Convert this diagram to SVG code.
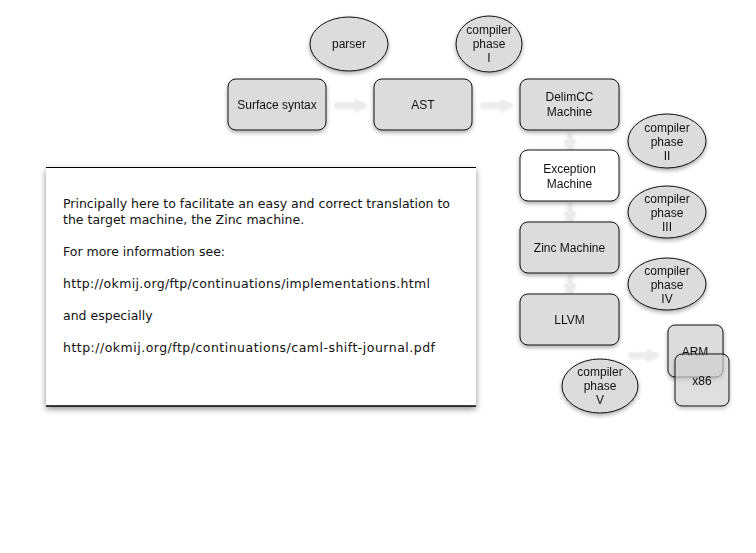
<svg xmlns="http://www.w3.org/2000/svg" width="756" height="553" viewBox="0 0 756 553">
<defs>
<filter id="sh" x="-20%" y="-20%" width="140%" height="140%">
<feDropShadow dx="0" dy="2" stdDeviation="2" flood-color="#000" flood-opacity="0.35"/>
</filter>
<filter id="nsh" x="-10%" y="-10%" width="120%" height="130%">
<feDropShadow dx="0" dy="3" stdDeviation="3" flood-color="#000" flood-opacity="0.45"/>
</filter>
<filter id="ash" x="-30%" y="-100%" width="160%" height="300%">
<feDropShadow dx="0" dy="1" stdDeviation="1.5" flood-color="#000" flood-opacity="0.12"/>
</filter>
<marker id="ah" viewBox="0 0 10 10" refX="8" refY="5" markerWidth="2.6" markerHeight="2.6" orient="auto">
<path d="M0,0 L10,5 L0,10 z" fill="#ececec"/>
</marker>
</defs>
<style>
.n{fill:#dcdcdc;stroke:#111;stroke-width:1}
.w{fill:#fff;stroke:#111;stroke-width:1}
.t{font-family:"Liberation Sans",Arial,sans-serif;font-size:12px;fill:#111;text-anchor:middle}
.c{stroke:#ececec;stroke-width:5;fill:none;marker-end:url(#ah)}
.nt{font-family:"DejaVu Sans",sans-serif;font-size:12.5px;fill:#111}
</style>
<rect width="756" height="553" fill="#fff"/>
<g id="connectors" filter="url(#ash)">
<line class="c" x1="335" y1="105" x2="365" y2="105"/>
<line class="c" x1="481" y1="105" x2="511" y2="105"/>
<line class="c" x1="570" y1="133" x2="570" y2="150"/>
<line class="c" x1="570" y1="203" x2="570" y2="222"/>
<line class="c" x1="570" y1="275" x2="570" y2="294"/>
<line class="c" x1="629" y1="355" x2="657" y2="355"/>
</g>
<g id="surface" filter="url(#sh)"><rect class="n" x="228" y="79" width="98" height="51" rx="8"/><text class="t" x="277" y="109">Surface syntax</text></g>
<g id="ast" filter="url(#sh)"><rect class="n" x="374" y="79" width="98" height="51" rx="8"/><text class="t" x="423" y="109">AST</text></g>
<g id="delimcc" filter="url(#sh)"><rect class="n" x="520" y="79" width="99" height="51" rx="8"/><text class="t" x="569.5" y="101">DelimCC</text><text class="t" x="569.5" y="116">Machine</text></g>
<g id="exception" filter="url(#sh)"><rect class="w" x="520" y="150" width="99" height="51" rx="8"/><text class="t" x="569.5" y="173">Exception</text><text class="t" x="569.5" y="188">Machine</text></g>
<g id="zinc" filter="url(#sh)"><rect class="n" x="520" y="222" width="99" height="51" rx="8"/><text class="t" x="569.5" y="252">Zinc Machine</text></g>
<g id="llvm" filter="url(#sh)"><rect class="n" x="520" y="294" width="99" height="51" rx="8"/><text class="t" x="569.5" y="324">LLVM</text></g>
<g id="arm" filter="url(#sh)"><rect class="n" x="668" y="325" width="55" height="52" rx="7"/><text class="t" x="695" y="356">ARM</text></g>
<g id="x86" filter="url(#sh)"><rect class="n" x="675" y="354" width="54" height="52" rx="7" fill-opacity="0.6"/><text class="t" x="702" y="385">x86</text></g>
<g id="parser" filter="url(#sh)"><ellipse class="n" cx="349" cy="44" rx="39" ry="27"/><text class="t" x="349" y="48">parser</text></g>
<g id="phase1" filter="url(#sh)"><ellipse class="n" cx="489" cy="44" rx="33" ry="28"/><text class="t" x="489" y="34">compiler</text><text class="t" x="489" y="48">phase</text><text class="t" x="489" y="62">I</text></g>
<g id="phase2" filter="url(#sh)"><ellipse class="n" cx="667" cy="141" rx="39" ry="27"/><text class="t" x="667" y="132">compiler</text><text class="t" x="667" y="146">phase</text><text class="t" x="667" y="160">II</text></g>
<g id="phase3" filter="url(#sh)"><ellipse class="n" cx="667" cy="212" rx="39" ry="26"/><text class="t" x="667" y="203">compiler</text><text class="t" x="667" y="217">phase</text><text class="t" x="667" y="231">III</text></g>
<g id="phase4" filter="url(#sh)"><ellipse class="n" cx="667" cy="284" rx="39" ry="26"/><text class="t" x="667" y="275">compiler</text><text class="t" x="667" y="289">phase</text><text class="t" x="667" y="303">IV</text></g>
<g id="phase5" filter="url(#sh)"><ellipse class="n" cx="600" cy="386" rx="38" ry="27"/><text class="t" x="600" y="376">compiler</text><text class="t" x="600" y="390">phase</text><text class="t" x="600" y="404">V</text></g>
<g id="note">
<rect x="46" y="167" width="430" height="239" fill="#fff" filter="url(#nsh)"/>
<line x1="46" y1="167.5" x2="476" y2="167.5" stroke="#000" stroke-width="1"/>
<line x1="46" y1="406" x2="476" y2="406" stroke="#000" stroke-width="1.5"/>
<text class="nt" x="63" y="208">Principally here to facilitate an easy and correct translation to</text>
<text class="nt" x="63" y="224">the target machine, the Zinc machine.</text>
<text class="nt" x="63" y="256">For more information see:</text>
<text class="nt" x="63" y="288" textLength="367" lengthAdjust="spacing">http://okmij.org/ftp/continuations/implementations.html</text>
<text class="nt" x="63" y="320">and especially</text>
<text class="nt" x="63" y="352" textLength="372" lengthAdjust="spacing">http://okmij.org/ftp/continuations/caml-shift-journal.pdf</text>
</g>
</svg>
